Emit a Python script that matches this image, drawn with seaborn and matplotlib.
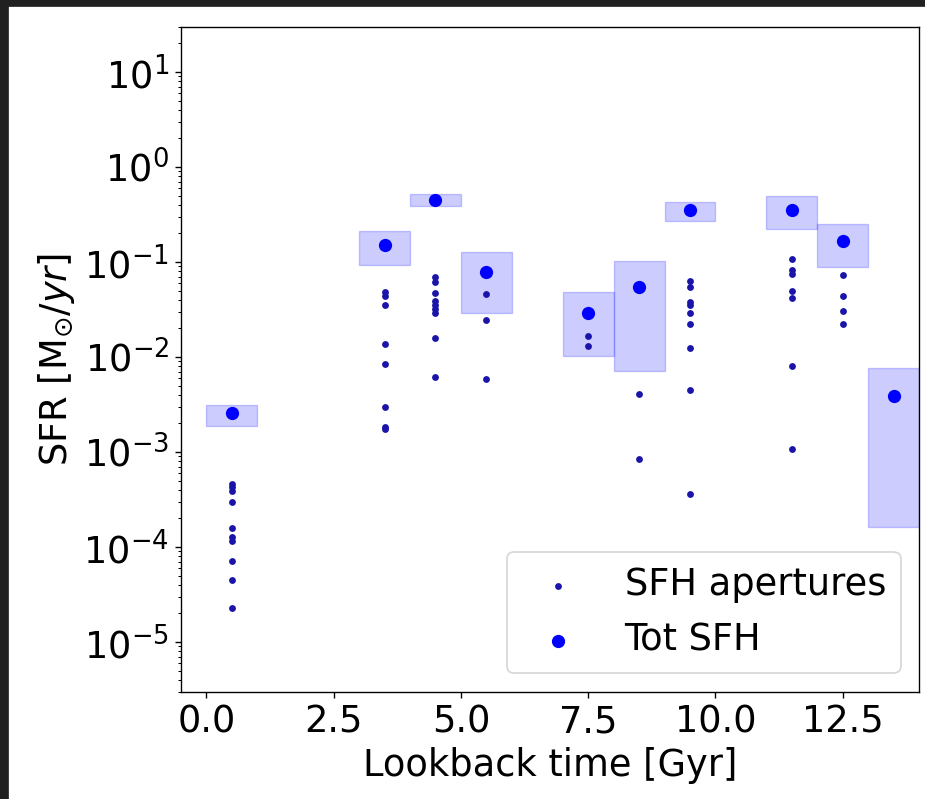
import numpy as np
import pandas as pd
import matplotlib
matplotlib.use("Agg")
import matplotlib.pyplot as plt
import seaborn as sns
from matplotlib.patches import Rectangle

# ---- data ----
bin_centers = [0.5, 3.5, 4.5, 5.5, 7.5, 8.5, 9.5, 11.5, 12.5, 13.5]
tot_sfr = [2.57e-3, 0.150, 0.446, 0.078, 0.029, 0.0546, 0.356, 0.35, 0.165, 0.0039]
tot_lo = [1.9e-3, 0.094, 0.386, 0.029, 0.0102, 0.0072, 0.27, 0.224, 0.0886, 1.63e-4]
tot_hi = [3.16e-3, 0.21, 0.516, 0.127, 0.0483, 0.102, 0.428, 0.49, 0.251, 0.00766]

ap_t05 = [4.66e-4, 4.26e-4, 3.88e-4, 2.96e-4, 1.58e-4, 1.26e-4, 1.15e-4, 7.1e-5, 4.5e-5, 2.27e-5]
ap_t35 = [0.048, 0.044, 0.035, 0.0136, 0.0084, 2.98e-3, 1.83e-3, 1.74e-3]
ap_t45 = [0.0688, 0.0616, 0.047, 0.039, 0.0356, 0.0324, 0.029, 0.0158, 0.0061]
ap_t55 = [0.0457, 0.0243, 0.0058]
ap_t75 = [0.0166, 0.013]
ap_t85 = [4.1e-3, 8.5e-4]
ap_t95 = [0.063, 0.0546, 0.038, 0.035, 0.029, 0.0222, 0.0124, 4.47e-3, 3.6e-4]
ap_t115 = [0.107, 0.083, 0.075, 0.050, 0.042, 0.008, 1.08e-3]
ap_t125 = [0.0736, 0.0435, 0.0305, 0.0222]

ap_times = [0.5, 3.5, 4.5, 5.5, 7.5, 8.5, 9.5, 11.5, 12.5]
ap_values = [ap_t05, ap_t35, ap_t45, ap_t55, ap_t75, ap_t85, ap_t95, ap_t115, ap_t125]

bin_width = 1.0

# ---- tables ----
rows = []
for t, vals in zip(ap_times, ap_values):
    for v in vals:
        rows.append({"time": t, "sfr": v})
df_ap = pd.DataFrame(rows)
df_tot = pd.DataFrame({"time": bin_centers, "sfr": tot_sfr, "lo": tot_lo, "hi": tot_hi})

# ---- figure ----
DPI = 123
fig = plt.figure(figsize=(925 / DPI, 799 / DPI), dpi=DPI)
ax = fig.add_axes([0.1957, 0.1343, 0.7978, 0.8323])
FS = 21.5

for _, r in df_tot.iterrows():
    ax.fill_between([r["time"] - bin_width / 2, r["time"] + bin_width / 2],
                    r["lo"], r["hi"], color="blue", alpha=0.2, linewidth=0.8, zorder=1)

sns.scatterplot(data=df_ap, x="time", y="sfr", ax=ax, color="#1a14a8",
                s=16, linewidth=0, marker="o", label="SFH apertures", zorder=3)
sns.scatterplot(data=df_tot, x="time", y="sfr", ax=ax, color="blue",
                s=60, linewidth=0, marker="o", label="Tot SFH", zorder=4)

ax.set_yscale("log")
ax.set_ylim(3e-6, 30)
ax.set_xlim(-0.5, 14)
ax.set_xticks([0.0, 2.5, 5.0, 7.5, 10.0, 12.5])
ax.set_xticklabels(["0.0", "2.5", "5.0", "7.5", "10.0", "12.5"])
ax.tick_params(labelsize=FS)
ax.set_xlabel("Lookback time [Gyr]", fontsize=FS)
ax.set_ylabel(r"SFR [M$_{\odot}/yr$]", fontsize=FS)

ax.legend(loc="lower right", fontsize=FS, frameon=True)

# dark screenshot border (top and left)
fig.add_artist(Rectangle((0, 1 - 6 / 799), 1, 6 / 799, transform=fig.transFigure,
                         color="#202020", zorder=10))
fig.add_artist(Rectangle((0, 0), 8 / 925, 1, transform=fig.transFigure,
                         color="#202020", zorder=10))

fig.savefig("out.png", dpi=DPI)
